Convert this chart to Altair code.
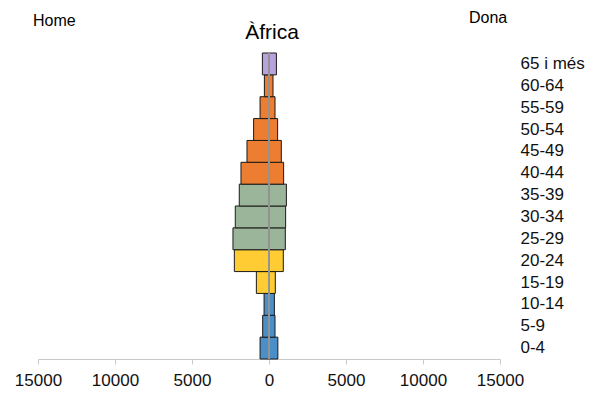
import altair as alt
import pandas as pd

ages = ["0-4", "5-9", "10-14", "15-19", "20-24", "25-29", "30-34",
        "35-39", "40-44", "45-49", "50-54", "55-59", "60-64", "65 i més"]
men = [580, 410, 320, 820, 2250, 2340, 2190, 1930, 1820, 1430, 1000, 580, 300, 430]
women = [575, 390, 350, 410, 930, 1060, 1080, 1130, 950, 800, 560, 390, 260, 480]
groups = ["0-14", "0-14", "0-14", "15-24", "15-24", "25-39", "25-39",
          "25-39", "40-64", "40-64", "40-64", "40-64", "40-64", "65+"]

group_domain = ["0-14", "15-24", "25-39", "40-64", "65+"]
group_colors = ["#4a8fc8", "#ffcc33", "#9bb59a", "#ed7d31", "#b7a2dc"]

rows = []
for a, m, w, g in zip(ages, men, women, groups):
    rows.append({"edat": a, "sexe": "Home", "valor": -m, "grup": g})
    rows.append({"edat": a, "sexe": "Dona", "valor": w, "grup": g})
df = pd.DataFrame(rows)

order = list(reversed(ages))

y_enc = alt.Y(
    "edat:N", sort=order, title=None,
    scale=alt.Scale(paddingInner=0, paddingOuter=0),
    axis=alt.Axis(orient="right", domain=False, ticks=False, labelPadding=20,
                  labelAlign="left", labelBaseline="middle", labelFontSize=17,
                  labelFont="Liberation Sans", labelColor="#111"),
)

bars = alt.Chart(df).mark_bar(stroke="#1a1a1a", strokeWidth=1).encode(
    x=alt.X("valor:Q", title=None,
            scale=alt.Scale(domain=[-15000, 15000], nice=False, zero=False),
            axis=alt.Axis(values=[-15000, -10000, -5000, 0, 5000, 10000, 15000],
                          labelExpr="format(abs(datum.value), 'd')",
                          grid=False, domainColor="#c9c9c9", tickColor="#c9c9c9",
                          tickSize=5, labelPadding=8, labelFontSize=17,
                          labelFlush=False, labelOverlap=False,
                          labelFont="Liberation Sans", labelColor="#111")),
    x2=alt.datum(0),
    y=y_enc,
    color=alt.Color("grup:N", legend=None,
                    scale=alt.Scale(domain=group_domain, range=group_colors)),
)

center = alt.Chart(pd.DataFrame({"x": [0]})).mark_rule(
    color="#939393", strokeWidth=2
).encode(x=alt.X("x:Q"), y=alt.value(0), y2=alt.value(306))

labels = pd.DataFrame({
    "text": ["Home", "Dona", "Àfrica"],
    "px": [-5, 431, 234],
    "py": [-27, -30, -14],
    "size": [16, 16, 21],
    "align": ["left", "left", "center"],
})

def txt(i):
    r = labels.iloc[i]
    return alt.Chart(pd.DataFrame({"t": [r["text"]]})).mark_text(
        align=r["align"], baseline="alphabetic", fontSize=int(r["size"]),
        font="Liberation Sans", color="#000"
    ).encode(text="t:N", x=alt.value(float(r["px"])), y=alt.value(float(r["py"])))

chart = alt.layer(bars, center, txt(0), txt(1), txt(2)).properties(
    width=462, height=306,
    autosize=alt.AutoSizeParams(type="none"),
    padding={"left": 30, "top": 45, "right": 90, "bottom": 31},
).configure_view(stroke=None)

chart.save("out.html", embed_options={"renderer": "svg", "actions": False})
